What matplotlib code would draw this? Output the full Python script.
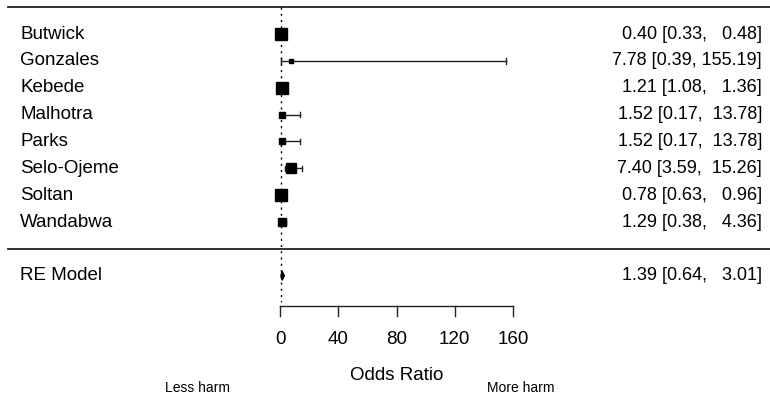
import matplotlib
matplotlib.use("Agg")
import matplotlib.pyplot as plt
from matplotlib.patches import Polygon

plt.rcParams['font.family'] = ['Liberation Sans', 'DejaVu Sans']

# study data (odds ratio with 95% CI)
studies = ["Butwick", "Gonzales", "Kebede", "Malhotra", "Parks",
           "Selo-Ojeme", "Soltan", "Wandabwa"]
est = [0.40, 7.78, 1.21, 1.52, 1.52, 7.40, 0.78, 1.29]
lo = [0.33, 0.39, 1.08, 0.17, 0.17, 3.59, 0.63, 0.38]
hi = [0.48, 155.19, 1.36, 13.78, 13.78, 15.26, 0.96, 4.36]

# pooled random-effects estimate
re_label = "RE Model"
re_est, re_lo, re_hi = 1.39, 0.64, 3.01

xticks = [0, 40, 80, 120, 160]

# box sizes (points) for each study square
box_size = [9.2, 3.0, 8.8, 4.2, 4.2, 7.8, 9.2, 6.4]

fig = plt.figure(figsize=(7.7, 4.01), dpi=100)
ax = fig.add_axes([0, 0, 1, 1])
ax.set_xlim(-192.3, 336.5)
ax.set_ylim(-5.664, 9.266)
ax.axis("off")

k = len(studies)
rows = list(range(k, 0, -1))
x_lab = -178.5
x_txt = 331
fs_lab = 13.5
fs_txt = 13.0

def fmt(v, w):
    return ("%.2f" % v).rjust(w)

w_hi = max(len("%.2f" % v) for v in hi + [re_hi])
w_lo = max(len("%.2f" % v) for v in lo + [re_lo])

for i, y in enumerate(rows):
    ax.plot([lo[i], hi[i]], [y, y], color="#222222", lw=1.0)
    for e in (lo[i], hi[i]):
        ax.plot([e, e], [y - 0.1, y + 0.1], color="#222222", lw=1.0)
    ax.plot(est[i], y, marker="s", color="black", markersize=box_size[i], mec="black")
    ax.text(x_lab, y, studies[i], ha="left", va="center", fontsize=fs_lab)
    ax.text(x_txt, y, "%s [%s, %s]" % (fmt(est[i], 4), fmt(lo[i], w_lo), fmt(hi[i], w_hi)),
            ha="right", va="center", fontsize=fs_txt)

# pooled diamond
yre = -1
ax.add_patch(Polygon([[re_lo, yre], [re_est, yre + 0.17], [re_hi, yre], [re_est, yre - 0.17]],
                     closed=True, color="black"))
ax.text(x_lab, yre, re_label, ha="left", va="center", fontsize=fs_lab)
ax.text(x_txt, yre, "%s [%s, %s]" % (fmt(re_est, 4), fmt(re_lo, w_lo), fmt(re_hi, w_hi)),
        ha="right", va="center", fontsize=fs_txt)

# horizontal rules
ax.plot([-187, 336.5], [9, 9], color="#222222", lw=1.3)
ax.plot([-187, 336.5], [0, 0], color="#222222", lw=1.3)

# reference line at OR = 1
ax.plot([1, 1], [9, -1.98], color="black", lw=1.0, ls=(0, (1.5, 3)))

# x axis
y_ax = -2.13
ax.plot([xticks[0], xticks[-1]], [y_ax, y_ax], color="#222222", lw=1.0)
for t in xticks:
    ax.plot([t, t], [y_ax, y_ax - 0.38], color="#222222", lw=1.0)
    ax.text(t, -3.39, str(t), ha="center", va="center", fontsize=fs_lab)
ax.text(80, -4.7, "Odds Ratio", ha="center", va="center", fontsize=fs_lab)
ax.text(-57, -5.18, "Less harm", ha="center", va="center", fontsize=10)
ax.text(165, -5.18, "More harm", ha="center", va="center", fontsize=10)

fig.savefig("out.png", dpi=100)
